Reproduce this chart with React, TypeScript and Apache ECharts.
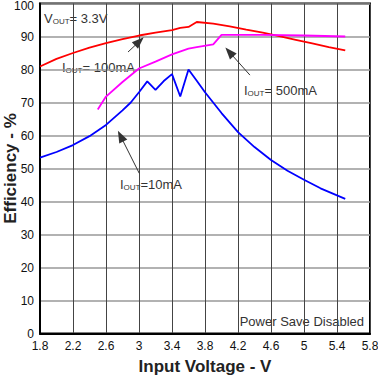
import React, { useEffect, useRef } from "react";
import * as echarts from "echarts";

const xTicks = { min: 1.8, max: 5.8, interval: 0.4 };
const yTicks = { min: 0, max: 100, interval: 10 };

const iout100: [number, number][] = [
  [1.8, 80.9], [2.0, 83.2], [2.2, 85.0], [2.4, 86.6], [2.6, 88.0], [2.8, 89.2],
  [3.0, 90.3], [3.2, 91.2], [3.4, 91.9], [3.5, 92.6], [3.6, 92.9], [3.7, 94.4],
  [3.9, 93.9], [4.1, 93.1], [4.3, 92.1], [4.5, 91.2], [4.7, 90.1], [4.9, 89.0],
  [5.1, 87.9], [5.3, 86.8], [5.5, 85.8],
];
const iout500: [number, number][] = [
  [2.5, 67.9], [2.6, 71.8], [2.8, 76.2], [3.0, 80.3], [3.2, 82.4], [3.4, 84.6],
  [3.6, 86.3], [3.7, 86.8], [3.9, 87.6], [4.0, 90.5], [4.5, 90.5], [5.0, 90.3],
  [5.5, 90.0],
];
const iout10: [number, number][] = [
  [1.8, 53.3], [2.0, 55.0], [2.2, 57.1], [2.4, 59.8], [2.6, 63.2], [2.8, 67.6],
  [2.9, 70.0], [3.0, 73.1], [3.1, 76.4], [3.2, 73.8], [3.3, 76.5], [3.4, 78.6],
  [3.5, 71.8], [3.6, 80.0], [3.7, 76.6], [3.8, 73.1], [4.0, 66.8], [4.2, 61.0],
  [4.4, 56.5], [4.6, 52.6], [4.8, 49.3], [5.0, 46.6], [5.2, 44.0], [5.5, 40.8],
];
// annotation arrows: [tail, head] in data units
const arrow100: [number, number][] = [[2.867, 85.3], [3.004, 88.5]];
const arrow500: [number, number][] = [[4.345, 78.3], [4.095, 85.3]];
const arrow10: [number, number][] = [[3.004, 48.5], [2.777, 59.8]];

const labels = {
  vout: ["V", "OUT", "= 3.3V"],
  i100: ["I", "OUT", "= 100mA"],
  i500: ["I", "OUT", "= 500mA"],
  i10: ["I", "OUT", "=10mA"],
  note: "Power Save Disabled",
  xName: "Input Voltage - V",
  yName: "Efficiency - %",
};

const FONT = "'Liberation Sans', Arial, sans-serif";

function arrowLine(pts: [number, number][]) {
  return {
    silent: true,
    symbol: ["none", "triangle"],
    symbolSize: [9, 12],
    label: { show: false },
    lineStyle: { color: "#333", width: 1, type: "solid" },
    emphasis: { disabled: true },
    data: [[{ coord: pts[0] }, { coord: pts[1] }]],
  };
}

function subText(parts: string[]) {
  return `{m|${parts[0]}}{s|${parts[1]}}{m|${parts[2]}}`;
}

const rich = {
  m: { fontSize: 13, fontFamily: FONT, color: "#333", lineHeight: 16 },
  s: { fontSize: 8, fontFamily: FONT, color: "#777", padding: [6, 0, 0, 0], lineHeight: 16 },
};

function textEl(x: number, y: number, parts: string[]) {
  return {
    type: "text",
    x,
    y,
    silent: true,
    style: {
      text: subText(parts),
      rich,
      font: `13px ${FONT}`,
      fill: "#333",
      verticalAlign: "middle",
    },
  };
}

export default function App() {
  const ref = useRef<HTMLDivElement>(null);
  useEffect(() => {
    if (!ref.current) return;
    const chart = echarts.init(ref.current, null, { renderer: "svg" });
    chart.setOption({
      animation: false,
      grid: {
        left: 40, right: 8, top: 3.5, bottom: 41.5,
        outerBoundsMode: "none",
        containLabel: false,
        show: true, borderColor: "#000", borderWidth: 2, backgroundColor: "transparent",
      },
      xAxis: {
        type: "value",
        min: xTicks.min, max: xTicks.max, interval: xTicks.interval,
        name: labels.xName, nameLocation: "middle", nameGap: 24,
        nameTextStyle: { fontSize: 17, fontWeight: "bold", fontFamily: FONT, color: "#222" },
        axisLine: { show: true, lineStyle: { color: "#000", width: 2 } },
        axisTick: { show: false },
        axisLabel: {
          fontSize: 12, fontFamily: FONT, color: "#111", margin: 6,
          formatter: (v: number) => String(Number(v.toFixed(1))),
        },
        splitLine: { show: true, lineStyle: { color: "#444", width: 1 } },
      },
      yAxis: {
        type: "value",
        min: yTicks.min, max: yTicks.max, interval: yTicks.interval,
        name: labels.yName, nameLocation: "middle", nameGap: 21,
        nameMoveOverlap: false,
        nameTextStyle: { fontSize: 17, fontWeight: "bold", fontFamily: FONT, color: "#222" },
        axisLine: { show: true, lineStyle: { color: "#000", width: 2 } },
        axisTick: { show: false },
        axisLabel: {
          fontSize: 12, fontFamily: FONT, color: "#111", margin: 6,
          formatter: (v: number) => (v === yTicks.max ? `{top|${v}}` : String(v)),
          rich: { top: { fontSize: 12, fontFamily: FONT, color: "#111", padding: [5, 0, 0, 0] } },
        },
        splitLine: { show: true, lineStyle: { color: "#999", width: 1.5 } },
      },
      series: [
        {
          type: "line", data: iout100, showSymbol: false, symbol: "none",
          lineStyle: { color: "#ff0000", width: 1.8 }, z: 3,
          markLine: arrowLine(arrow100),
        },
        {
          type: "line", data: iout500, showSymbol: false, symbol: "none",
          lineStyle: { color: "#ff00ff", width: 1.8 }, z: 3,
          markLine: arrowLine(arrow500),
        },
        {
          type: "line", data: iout10, showSymbol: false, symbol: "none",
          lineStyle: { color: "#0000ff", width: 1.8 }, z: 3,
          markLine: arrowLine(arrow10),
        },
      ],
      graphic: [
        textEl(44, 18, labels.vout),
        textEl(62, 67, labels.i100),
        textEl(244, 90, labels.i500),
        textEl(120, 184, labels.i10),
        {
          type: "text", x: 364, y: 321, silent: true,
          style: {
            text: labels.note, font: `13px ${FONT}`, fill: "#333",
            align: "right", verticalAlign: "middle",
          },
        },
      ],
    });
    return () => chart.dispose();
  }, []);
  return (
    <div
      ref={ref}
      style={{ position: "fixed", left: 0, top: 0, width: 378, height: 375, background: "#fff" }}
    />
  );
}
